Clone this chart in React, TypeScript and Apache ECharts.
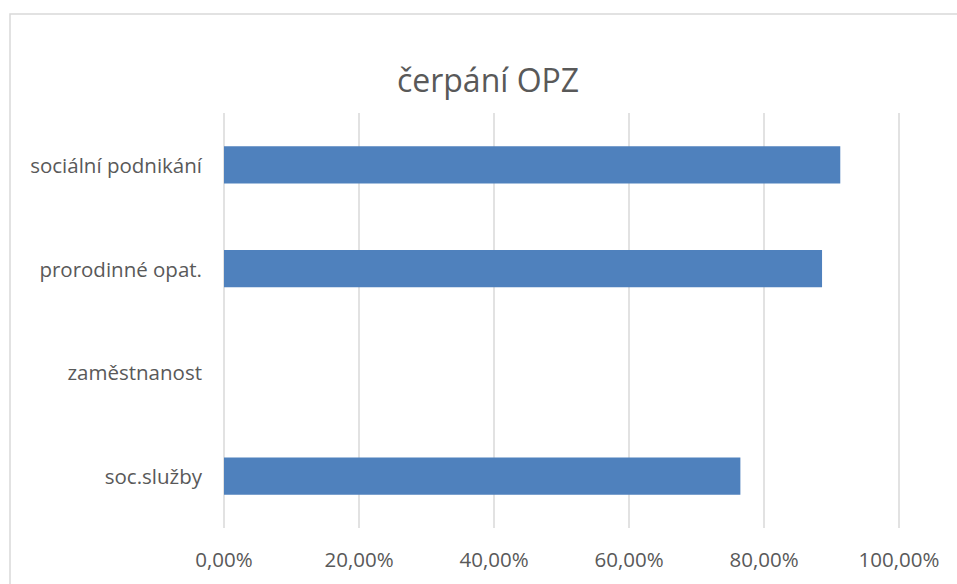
import React, { useEffect, useRef } from "react";
import * as echarts from "echarts";

const categories = ["soc.služby", "zaměstnanost", "prorodinné opat.", "sociální podnikání"];
const values = [76.5, 0, 88.6, 91.3];
const xTicks = { min: 0, max: 100, interval: 20 };
const titleText = "čerpání OPZ";

export default function App() {
  const ref = useRef<HTMLDivElement>(null);
  useEffect(() => {
    if (!ref.current) return;
    const chart = echarts.init(ref.current, undefined, { renderer: "svg" });
    const font = "'Open Sans', 'Noto Sans', sans-serif";
    chart.setOption({
      animation: false,
      backgroundColor: "#ffffff",
      title: {
        text: titleText,
        left: 483,
        textAlign: "center",
        top: 58,
        textStyle: { fontFamily: font, fontSize: 32, fontWeight: "normal", color: "#595959" },
      },
      graphic: [
        {
          type: "rect",
          shape: { x: 10, y: 14, width: 1000, height: 700 },
          style: { fill: "none", stroke: "#d9d9d9", lineWidth: 1.5 },
          silent: true,
        },
      ],
      grid: { left: 224, right: 58, top: 113, bottom: 56, containLabel: false },
      xAxis: {
        type: "value",
        min: xTicks.min,
        max: xTicks.max,
        interval: xTicks.interval,
        axisLine: { show: false },
        axisTick: { show: false },
        splitLine: { show: true, lineStyle: { color: "#d9d9d9", width: 1.5 } },
        axisLabel: {
          margin: 20,
          fontFamily: font,
          fontSize: 20.5,
          color: "#595959",
          formatter: (v: number) => v.toFixed(2).replace(".", ",") + "%",
        },
      },
      yAxis: {
        type: "category",
        data: categories,
        axisLine: { show: false },
        axisTick: { show: false },
        splitLine: { show: false },
        axisLabel: { margin: 22, fontFamily: font, fontSize: 20.5, color: "#595959" },
      },
      series: [
        {
          type: "bar",
          data: values,
          barCategoryGap: "64%",
          itemStyle: { color: "#4f81bd" },
        },
      ],
    });
    return () => chart.dispose();
  }, []);
  return (
    <div
      ref={ref}
      style={{ position: "fixed", left: 0, top: 0, width: 957, height: 584 }}
    />
  );
}
